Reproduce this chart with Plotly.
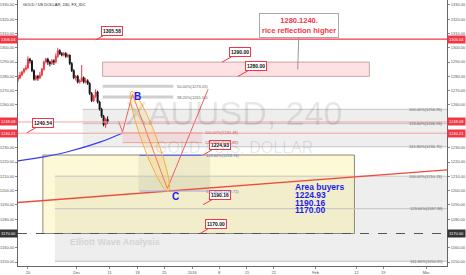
import math
import plotly.graph_objects as go

# ---------------- data ----------------
bar_x = [0, 2, 4, 6, 8, 10, 12, 14, 16, 18, 20, 22, 24, 26, 28, 30, 32, 34, 36, 38, 40, 42, 44,
         46, 48, 50, 52, 54, 56, 58, 60, 62, 64, 66, 68, 70, 72, 74, 76, 78, 80, 82, 84, 86, 88, 90]
opens = [1278, 1279, 1281, 1283, 1285, 1286, 1292, 1291, 1284, 1278, 1280, 1279, 1281, 1285, 1290, 1292,
         1290, 1289, 1291, 1290, 1294, 1298, 1296, 1295, 1296, 1294, 1295, 1289, 1284, 1279, 1280, 1276,
         1277, 1279, 1276, 1277, 1275, 1268, 1263, 1266, 1269, 1262, 1257, 1252, 1246, 1250]
highs = [1281, 1283, 1284, 1286, 1288, 1294, 1293, 1291, 1285, 1281, 1281, 1283, 1286, 1291, 1293, 1293,
         1291, 1292, 1292, 1296, 1300, 1299, 1297, 1297, 1297, 1296, 1295, 1290, 1285, 1281, 1281, 1278,
         1288, 1280, 1279, 1278, 1276, 1269, 1267, 1271, 1270, 1263, 1258, 1253, 1251, 1252]
lows = [1276, 1278, 1280, 1282, 1284, 1285, 1289, 1283, 1277, 1277, 1277, 1278, 1280, 1284, 1289, 1288,
        1287, 1288, 1288, 1289, 1293, 1295, 1294, 1294, 1293, 1293, 1288, 1283, 1278, 1277, 1275, 1275,
        1276, 1275, 1275, 1274, 1267, 1262, 1262, 1265, 1261, 1256, 1251, 1245, 1244, 1247]
closes = [1279, 1281, 1283, 1285, 1286, 1292, 1291, 1284, 1278, 1280, 1279, 1281, 1285, 1290, 1292, 1290,
          1289, 1291, 1290, 1294, 1298, 1296, 1295, 1296, 1294, 1295, 1289, 1284, 1279, 1280, 1276, 1277,
          1279, 1276, 1277, 1275, 1268, 1263, 1266, 1269, 1262, 1257, 1252, 1246, 1250, 1248]

x_tick_vals = [10, 59, 92, 120, 147, 175, 202, 230, 257, 299, 340, 367, 410]
x_tick_text = ["20", "Dec", "11", "18", "25", "2016", "8", "15", "22", "Feb", "12", "19", "Mar"]
price_ticks = [1150, 1160, 1170, 1180, 1190, 1200, 1210, 1220, 1230, 1240,
               1250, 1260, 1270, 1280, 1290, 1300, 1310, 1320, 1330]

# horizontal price lines
line_resistance = 1306.04
line_last = 1248.08
line_low = 1240.21
line_support = 1170.00

# callouts: (x, price)
callout_x = [78, 205, 221, 9, 186, 186, 183]
callout_p = [1305.58, 1290.00, 1280.00, 1240.54, 1224.93, 1190.16, 1170.00]

# wave points (x, price)
wave_x = [101, 105, 115, 150, 191]
wave_p = [1248.7, 1241.0, 1267.5, 1201.4, 1271.0]

# blue arc
arc_x = [0, 26, 50, 83, 105]
arc_p = [1220.9, 1223.7, 1227.2, 1234.1, 1240.4]

# trend line
trend_x = [0, 431]
trend_p = [1191.7, 1214.6]

# fib levels
fib_right_a = [1256.95, 1246.93, 1230.70]
fib_right_a_lbl = ["100.00%(1256.95)", "123.60%(1246.93)", "161.80%(1230.70)"]
fib_right_b = [1210.13, 1187.38, 1150.55]
fib_right_b_lbl = ["100.00%(1210.13)", "123.60%(1187.38)", "161.80%(1150.55)"]
fib_retr = [1273.05, 1265.50]
fib_retr_lbl = ["50.00%(1273.05)", "38.20%(1265.50)"]
fib_red = [1240.48, 1233.65]
fib_red_lbl = ["100.00%(1240.48)", "123.60%(1233.65)"]
fib_blue = [1224.74, 1199.71]
fib_blue_lbl = ["123.60%(1224.74)", "161.80%(1199.71)"]

zone_hi, zone_lo = 1290.00, 1280.00
buy_hi, buy_lo = 1224.93, 1170.00
area_lines = ["Area buyers", "1224.93", "1190.16", "1170.00"]

# ---------------- layout constants ----------------
Y_MIN, Y_MAX = 1147.24, 1333.47
X_MIN, X_MAX = 0, 431
PLOT_H = 268
FONT = "Liberation Sans, Arial, sans-serif"
RED = "#f23645"


def to_py(p):
    return (Y_MAX - p) * PLOT_H / (Y_MAX - Y_MIN)


def from_py(v):
    return Y_MAX - v * (Y_MAX - Y_MIN) / PLOT_H


fig = go.Figure()

fig.add_trace(go.Candlestick(
    x=bar_x, open=opens, high=highs, low=lows, close=closes,
    increasing=dict(line=dict(color=RED, width=1), fillcolor=RED),
    decreasing=dict(line=dict(color="#111111", width=1), fillcolor="#111111"),
    whiskerwidth=0, showlegend=False, hoverinfo="skip"))

fig.add_trace(go.Scatter(x=arc_x, y=arc_p, mode="lines",
                         line=dict(color="#3b3bf5", width=1.2, shape="spline"),
                         showlegend=False, hoverinfo="skip"))

fig.add_trace(go.Scatter(x=wave_x, y=wave_p, mode="lines",
                         line=dict(color="#f26060", width=1),
                         showlegend=False, hoverinfo="skip"))

fig.add_trace(go.Scatter(x=trend_x, y=trend_p, mode="lines",
                         line=dict(color="#ef4b3b", width=1.3),
                         showlegend=False, hoverinfo="skip"))

fig.add_trace(go.Scatter(x=[0], y=[1200], yaxis="y2", mode="markers", opacity=0,
                         showlegend=False, hoverinfo="skip"))

shapes = []


def rect(x0, x1, y0, y1, fill, line=None, layer="below"):
    shapes.append(dict(type="rect", xref="x", yref="y", x0=x0, x1=x1, y0=y0, y1=y1,
                       fillcolor=fill, layer=layer,
                       line=line if line else dict(width=0)))


def hline(x0, x1, y, color, width=1, dash="solid", layer="above"):
    shapes.append(dict(type="line", xref="x", yref="y", x0=x0, x1=x1, y0=y, y1=y,
                       line=dict(color=color, width=width, dash=dash), layer=layer))


# background regions
rect(65, X_MAX, fib_right_a[2], fib_right_a[0], "rgba(0,0,0,0.065)")
rect(37, X_MAX, fib_right_b[2], fib_right_b[0], "rgba(0,0,0,0.065)")
rect(25, 338, buy_lo, buy_hi, "rgba(250,240,150,0.38)", dict(color="#8a8a7a", width=1))
rect(121, 193, fib_blue[1], fib_blue[0], "rgba(0,0,0,0.06)")
rect(105, 185, fib_red[1], fib_red[0], "rgba(242,54,69,0.10)")
rect(85, 353, zone_lo, zone_hi, "rgba(242,54,69,0.15)", dict(color="#c8a8a8", width=1))

for p in fib_right_a:
    hline(65, X_MAX, p, "#c4c4c4", 1, layer="below")
for p in fib_right_b:
    hline(37, X_MAX, p, "#c4c4c4", 1, layer="below")
for p in fib_retr:
    hline(85, 156, p, "#cfcfcf", 3, layer="below")
for p in fib_red:
    hline(105, 185, p, "#f5a0a0", 1, layer="below")
hline(122, 185, fib_blue[0], "#6f6ff2", 1.2)
hline(122, 191, fib_blue[1], "#a8a8e0", 1)

hline(X_MIN, X_MAX, line_resistance, RED, 1.3)
hline(X_MIN, X_MAX, line_last, "#f5a3a3", 1)
hline(X_MIN, X_MAX, line_low, "#f5a3a3", 1)
hline(X_MIN, X_MAX, line_support, "#555555", 1.2, dash="dash")

# ellipse from B to C
bx, bp = wave_x[2], wave_p[2]
cx, cp = wave_x[3], wave_p[3]
b_px, b_py = bx, to_py(bp)
c_px, c_py = cx, to_py(cp)
mx, my = (b_px + c_px) / 2, (b_py + c_py) / 2
dx, dy = c_px - b_px, c_py - b_py
L = math.hypot(dx, dy)
ux, uy = dx / L, dy / L
a, b = L / 2 + 3, 7.5
pts = []
for i in range(48):
    t = 2 * math.pi * i / 48
    ex = a * math.cos(t)
    ey = b * math.sin(t)
    qx = mx + ex * ux - ey * uy
    qy = my + ex * uy + ey * ux
    pts.append((qx, from_py(qy)))
path = "M " + " L ".join(f"{q[0]:.2f},{q[1]:.3f}" for q in pts) + " Z"
shapes.append(dict(type="path", xref="x", yref="y", path=path,
                   fillcolor="rgba(255,205,90,0.22)", line=dict(color="#f5b041", width=1),
                   layer="above"))

annotations = []

# callouts
callout_off = [(16, -8.5), (18, -10), (18, -10), (16.5, -9.5), (17, -10), (17, -9.5), (15.5, -9)]
for x, p, (ax, ay) in zip(callout_x, callout_p, callout_off):
    annotations.append(dict(x=x, y=p, xref="x", yref="y", text=f"<b>{p:.2f}</b>",
                            showarrow=True, arrowhead=0, arrowwidth=1, arrowcolor=RED,
                            ax=ax, ay=ay, bgcolor="white", bordercolor=RED, borderwidth=1,
                            borderpad=1, font=dict(family=FONT, size=5, color="#111")))

# big note
annotations.append(dict(x=281, y=1284.8, xref="x", yref="y",
                        text="<b>1280.1240.</b><br><b>rice reflection higher</b>",
                        showarrow=True, arrowhead=0, arrowwidth=1, arrowcolor="#999",
                        ax=1.5, ay=-44.5, bgcolor="white", bordercolor="#aaaaaa", borderwidth=1,
                        borderpad=2, font=dict(family=FONT, size=7.5, color=RED)))

# wave labels
annotations.append(dict(x=120, y=1266.1, xref="x", yref="y", text="<b>B</b>", showarrow=False,
                        font=dict(family=FONT, size=10, color="#2020f0")))
annotations.append(dict(x=158, y=1195.9, xref="x", yref="y", text="<b>C</b>", showarrow=False,
                        font=dict(family=FONT, size=10, color="#2020f0")))

# area buyers text
area_y = [1202.8, 1197.2, 1191.7, 1186.1]
for t, yv in zip(area_lines, area_y):
    annotations.append(dict(x=276, y=yv, xref="x", yref="y", text=f"<b>{t}</b>", showarrow=False,
                            xanchor="left", font=dict(family=FONT, size=8.5, color="#1c1cf0")))

# fib labels
lbl_font = dict(family=FONT, size=4, color="#666")
for p, t in zip(fib_right_a + fib_right_b, fib_right_a_lbl + fib_right_b_lbl):
    annotations.append(dict(x=429, y=p, xref="x", yref="y", text=t, showarrow=False,
                            xanchor="right", font=lbl_font))
for p, t in zip(fib_retr, fib_retr_lbl):
    annotations.append(dict(x=158, y=p, xref="x", yref="y", text=t, showarrow=False,
                            xanchor="left", font=lbl_font))
for p, t in zip(fib_red, fib_red_lbl):
    annotations.append(dict(x=186, y=p, xref="x", yref="y", text=t, showarrow=False,
                            xanchor="left", font=dict(family=FONT, size=4, color="#e05050")))
for p, t in zip(fib_blue, fib_blue_lbl):
    annotations.append(dict(x=187, y=p, xref="x", yref="y", text=t, showarrow=False,
                            xanchor="left", font=dict(family=FONT, size=4, color="#6a6ad0")))

# watermarks
annotations.append(dict(x=216, y=1254.3, xref="x", yref="y", text="XAUUSD, 240", showarrow=False,
                        font=dict(family=FONT, size=34, color="rgba(0,0,0,0.10)")))
annotations.append(dict(x=217, y=1229.9, xref="x", yref="y", text="GOLD / U.S. DOLLAR",
                        showarrow=False, font=dict(family=FONT, size=16, color="rgba(0,0,0,0.10)")))
annotations.append(dict(x=97, y=1164.0, xref="x", yref="y", text="<b>Elliott Wave Analysis</b>",
                        showarrow=False, font=dict(family=FONT, size=9, color="#d4d4d4")))

# title
annotations.append(dict(x=3, y=1330.5, xref="x", yref="y", text="GOLD / US DOLLAR, 240, FX_IDC",
                        showarrow=False, xanchor="left",
                        font=dict(family=FONT, size=4, color="#222")))

# axis price labels
for p, bg in [(line_resistance, RED), (line_last, RED), (line_low, RED), (line_support, "#333333")]:
    for xp, anc in [(0, "right"), (1, "left")]:
        annotations.append(dict(x=xp, y=p, xref="paper", yref="y", text=f"{p:.2f}",
                                showarrow=False, xanchor=anc, bgcolor=bg, borderpad=1,
                                font=dict(family=FONT, size=4, color="white")))

tick_text = [f"{v:.2f}" for v in price_ticks]
yax = dict(range=[Y_MIN, Y_MAX], tickvals=price_ticks, ticktext=tick_text, showgrid=False,
           zeroline=False, showline=True, linecolor="#666", linewidth=1, ticks="outside",
           ticklen=2, tickcolor="#888", tickfont=dict(family=FONT, size=4, color="#555"))

fig.update_layout(
    width=466, height=275,
    margin=dict(l=17, r=18, t=0, b=7),
    paper_bgcolor="white", plot_bgcolor="white",
    hovermode=False, showlegend=False,
    shapes=shapes, annotations=annotations,
    xaxis=dict(range=[X_MIN, X_MAX], tickvals=x_tick_vals, ticktext=x_tick_text,
               showgrid=False, zeroline=False, showline=True, linecolor="#666", ticks="outside",
               ticklen=2, tickcolor="#888", rangeslider=dict(visible=False),
               tickfont=dict(family=FONT, size=4, color="#555")),
    yaxis=dict(side="left", **yax),
    yaxis2=dict(side="right", overlaying="y", **yax),
)

fig.write_html("out.html")
